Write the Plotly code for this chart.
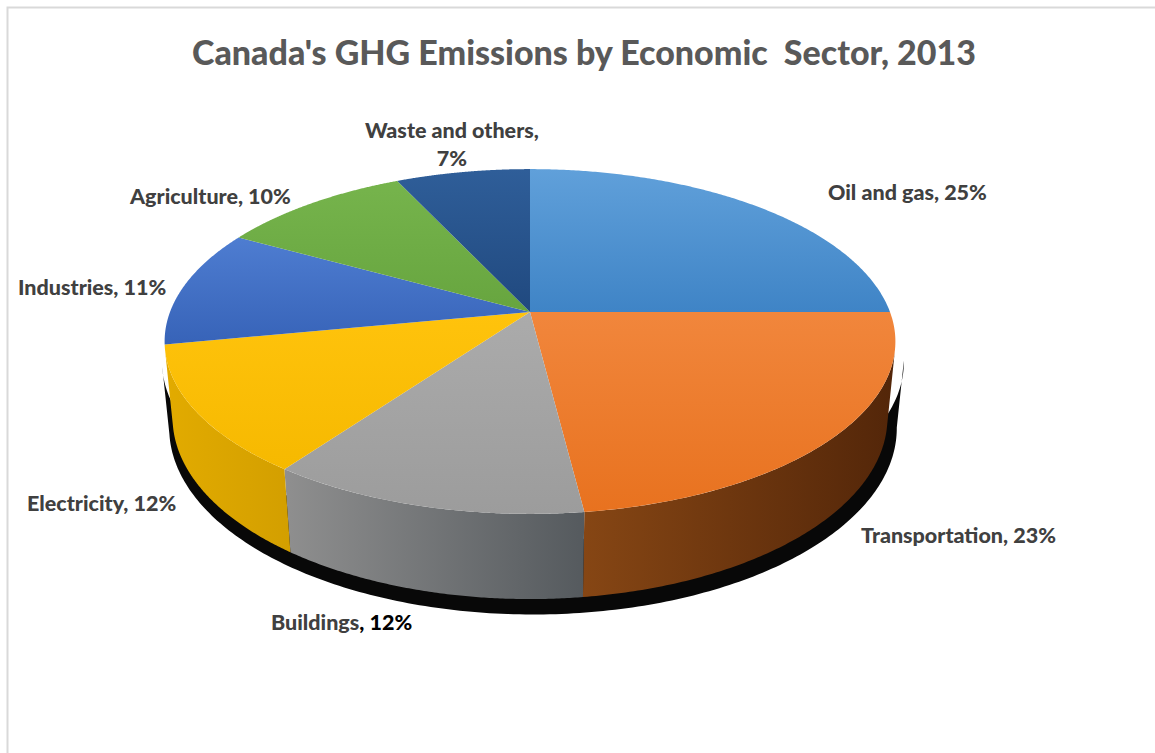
import numpy as np
import plotly.graph_objects as go

# Canada's GHG emissions by economic sector, 2013 (share of total, %)
SECTORS = ["Oil and gas", "Transportation", "Buildings", "Electricity",
           "Industries", "Agriculture", "Waste and others"]
SHARES = [25, 23, 12, 12, 11, 10, 7]

# Styling: top-face gradient (top -> bottom) and wall gradient (left -> right)
TOP_COLORS = [("#60A0DA", "#3F84C6"), ("#F1863C", "#E8721F"), ("#ABABAB", "#9C9C9C"),
              ("#FFC30C", "#F6B900"), ("#4E7DD1", "#3763B8"), ("#76B44C", "#67A53F"),
              ("#2F5E99", "#20497F")]
WALL_COLORS = [("#3F84C6", "#2E5F92"), ("#864614", "#532609"), ("#8F8F8F", "#555A5E"),
               ("#E2AB00", "#D39F00"), ("#3763B8", "#2A4C8C"), ("#67A53F", "#4E7F30"),
               ("#20497F", "#173660")]
LABEL_POS = [(826, 192, "left"), (859, 535, "left"), (269, 622, "left"),
             (25, 503, "left"), (16, 287, "left"), (127, 196, "left"), (452, 144, "center")]

W, H_PX = 1155, 753
CX, CY = 530.0, 312.0          # screen position of the pie centre
ELEV = np.radians(27.7)        # camera elevation
DIST = 5.175                   # camera distance (in pie radii)
FOCAL = 1863.0                 # projection scale (px)
THICK = 0.241                  # pie thickness (in pie radii)
S, C = np.sin(ELEV), np.cos(ELEV)


def project(theta_deg, r=1.0, height=0.0):
    """Perspective projection of a point on the pie (angle clockwise from 12 o'clock)."""
    t = np.radians(theta_deg)
    X = r * np.sin(t)
    Z = -r * np.cos(t)
    depth = DIST - (height * S + Z * C)
    u = FOCAL * X / depth
    v = FOCAL * (Z * S - height * C) / depth
    return CX + u, CY + v


bounds = np.concatenate([[0], np.cumsum(SHARES)]) / sum(SHARES) * 360.0
zvis = 1.0 / (DIST * C)
vis_lo = np.degrees(np.arccos(-zvis))          # front wall visible between these angles
vis_hi = 360.0 - vis_lo

fig = go.Figure()

# dark shadow under the front wall
ts = np.linspace(vis_lo - 3, vis_hi + 1, 200)
sx_top, sy_top = project(ts, 1.02, -0.06)
sx_bot, sy_bot = project(ts[::-1], 1.02, -THICK - 0.03)
fig.add_trace(go.Scatter(x=np.concatenate([sx_top, sx_bot]) + 3,
                         y=np.concatenate([sy_top, sy_bot]),
                         fill="toself", fillcolor="#080808", mode="none",
                         hoverinfo="skip", showlegend=False))

# front walls
for i, name in enumerate(SECTORS):
    a0, a1 = max(bounds[i], vis_lo), min(bounds[i + 1], vis_hi)
    if a1 <= a0:
        continue
    ts = np.linspace(a0, a1, 120)
    xt, yt = project(ts, 1.0, 0.0)
    xb, yb = project(ts[::-1], 1.0, -THICK)
    xs = np.concatenate([xt, xb])
    ys = np.concatenate([yt, yb])
    fig.add_trace(go.Scatter(
        x=xs, y=ys, fill="toself", mode="none", hoverinfo="skip", showlegend=False,
        fillgradient=dict(type="horizontal", start=xs.min(), stop=xs.max(),
                          colorscale=[[0, WALL_COLORS[i][0]], [1, WALL_COLORS[i][1]]])))

# top faces
for i, name in enumerate(SECTORS):
    ts = np.linspace(bounds[i], bounds[i + 1], 200)
    xa, ya = project(ts, 1.0, 0.0)
    xs = np.concatenate([[CX], xa, [CX]])
    ys = np.concatenate([[CY], ya, [CY]])
    fig.add_trace(go.Scatter(
        x=xs, y=ys, fill="toself", mode="none", name=name,
        text=f"{name}: {SHARES[i]}%", hoverinfo="text", showlegend=False,
        fillgradient=dict(type="vertical", start=ys.min(), stop=ys.max(),
                          colorscale=[[0, TOP_COLORS[i][0]], [1, TOP_COLORS[i][1]]])))

# data labels
for i, name in enumerate(SECTORS):
    lx, ly, anchor = LABEL_POS[i]
    if name == "Buildings":
        txt = f"{name}<span style='color:#000000'>, {SHARES[i]}%</span>"
    elif name == "Waste and others":
        txt = f"{name},<br>{SHARES[i]}%"
    else:
        txt = f"{name}, {SHARES[i]}%"
    fig.add_annotation(x=lx, y=ly, text=txt, showarrow=False, xanchor=anchor,
                       yanchor="middle", align="center",
                       font=dict(family="Lato", size=21.5, color="#404040", weight=900))

fig.add_annotation(x=583.5, y=51, text="Canada's GHG Emissions by Economic&nbsp; Sector, 2013",
                   showarrow=False, xanchor="center", yanchor="middle",
                   font=dict(family="Lato", size=34, color="#595959", weight=900))

fig.update_layout(
    width=W, height=H_PX, margin=dict(l=0, r=0, t=0, b=0),
    paper_bgcolor="white", plot_bgcolor="white",
    xaxis=dict(range=[0, W], visible=False, fixedrange=True),
    yaxis=dict(range=[H_PX, 0], visible=False, fixedrange=True),
    shapes=[dict(type="rect", xref="x", yref="y", x0=7.5, y0=7.5, x1=W + 10, y1=H_PX + 10,
                 line=dict(color="#D9D9D9", width=2), fillcolor="rgba(0,0,0,0)", layer="below")],
)

fig.write_html("out.html")
